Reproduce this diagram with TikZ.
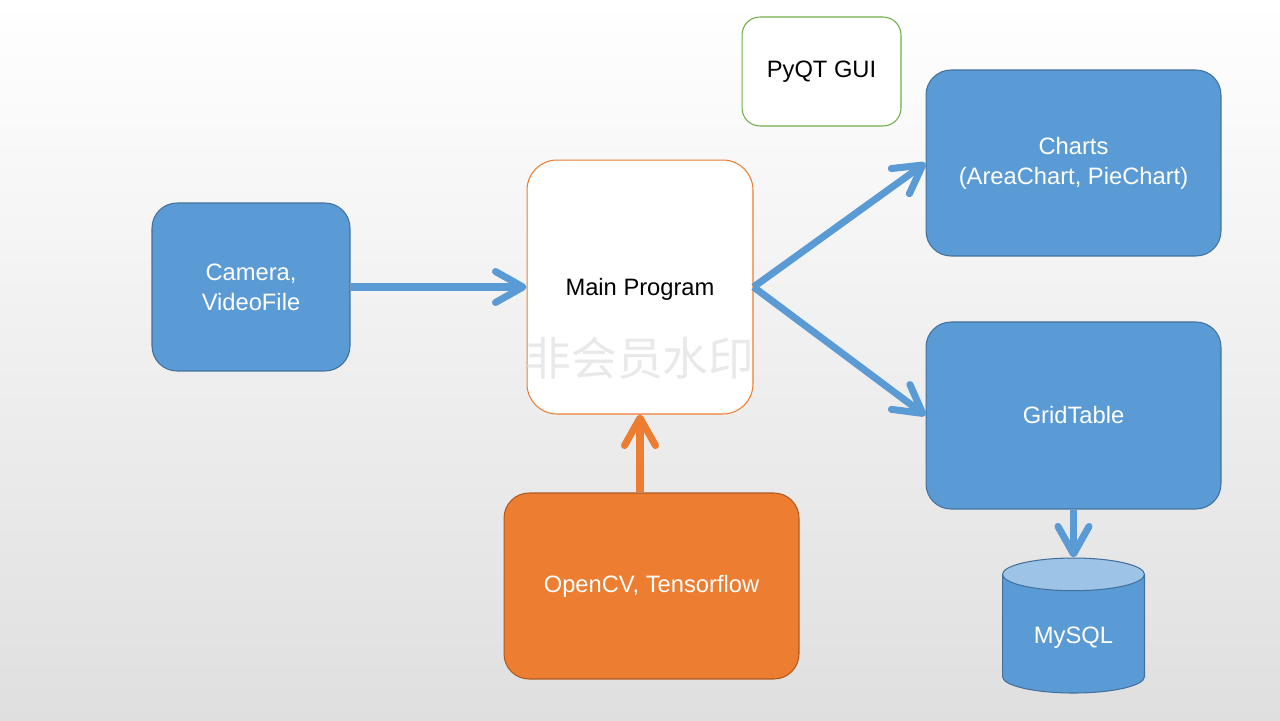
\documentclass[tikz,border=0pt]{standalone}
\usepackage{fontspec}
\setmainfont{Liberation Sans}
\newfontfamily\cjkfont{Noto Sans CJK SC}
\usetikzlibrary{positioning}
\usetikzlibrary{arrows.meta}
\usetikzlibrary{shapes.geometric}
\definecolor{boxblue}{HTML}{5B9BD5}
\definecolor{blueedge}{HTML}{41719C}
\definecolor{bluetop}{HTML}{9DC3E6}
\definecolor{boxorange}{HTML}{ED7D31}
\definecolor{orangeedge}{HTML}{AE5A21}
\definecolor{guigreen}{HTML}{70AD47}

\begin{document}
\begin{tikzpicture}[x=0.02cm,y=-0.02cm,
    every node/.style={font=\fontsize{13.5}{17}\selectfont, align=center},
    bluebox/.style={draw=blueedge, fill=boxblue, text=white, rounded corners=0.5cm, line width=0.6pt},
    flow/.style={line width=4pt, draw=boxblue, -{Straight Barb[round, length=0.55cm, width=0.62cm]}},
    ]

% background
\shade[top color=white, bottom color=gray!25] (0,0) rectangle (1280,720);
\useasboundingbox (0,0) rectangle (1280,720);

\node[bluebox, minimum width=3.96cm, minimum height=3.36cm] (camera) at (251,287) {Camera,\\VideoFile};

\node[draw=boxorange, fill=white, rounded corners=0.6cm, line width=0.6pt,
      minimum width=4.52cm, minimum height=5.08cm] (main) at (640,287) {};
\node (wmark) at (640,358) [text=gray!17, font=\cjkfont\fontsize{26}{30}\selectfont] {非会员水印};
\node (maintext) at (640,289) {Main Program};

\node[draw=guigreen, fill=white, rounded corners=0.36cm, line width=0.6pt,
      minimum width=3.18cm, minimum height=2.18cm] (gui) at (821.5,71.5) {PyQT GUI};

\node[bluebox, minimum width=5.9cm, minimum height=3.72cm] (charts) at (1073.5,163) {Charts\\(AreaChart, PieChart)};
\node[bluebox, minimum width=5.9cm, minimum height=3.74cm] (grid) at (1073.5,415.5) {GridTable};

\node[draw=orangeedge, fill=boxorange, text=white, rounded corners=0.5cm, line width=0.6pt,
      minimum width=5.9cm, minimum height=3.72cm] (opencv) at (651.5,586) {OpenCV, Tensorflow};

\node[cylinder, shape border rotate=90, draw=blueedge, line width=0.6pt, text=white,
      cylinder uses custom fill, cylinder body fill=boxblue, cylinder end fill=bluetop,
      minimum width=2.84cm, minimum height=2.7cm, aspect=0.36,
      below=0.96cm of grid] (mysql) {MySQL};

% connectors
\draw[flow] (camera.east) -- (main.west);
\draw[flow] (main.east) -- (charts.west);
\draw[flow] (main.east) -- (grid.west);
\draw[flow, draw=boxorange] (opencv.north -| main.south) -- (main.south);
\draw[flow] (grid.south) -- (mysql.north);

\end{tikzpicture}
\end{document}
